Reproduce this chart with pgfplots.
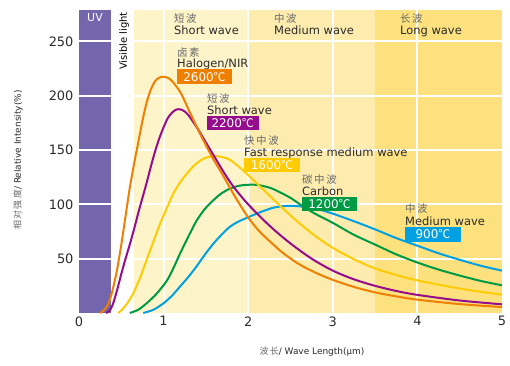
\documentclass[border=0pt]{standalone}
\usepackage{fontspec}
\setmainfont{DejaVu Sans}
\newfontfamily\cjk[LetterSpace=15]{Noto Sans CJK SC}
\usepackage{pgfplots}
\pgfplotsset{compat=1.18}
\definecolor{uvc}{HTML}{7466AD}
\definecolor{swc}{HTML}{FEF4C9}
\definecolor{mwc}{HTML}{FDECAE}
\definecolor{lwc}{HTML}{FCE17E}
\definecolor{corange}{HTML}{EE7F00}
\definecolor{cpurple}{HTML}{950C8C}
\definecolor{cyellow}{HTML}{FFCB05}
\definecolor{cgreen}{HTML}{009A44}
\definecolor{cblue}{HTML}{00A0E3}
\definecolor{cntxt}{HTML}{6A6A6A}
\definecolor{entxt}{HTML}{2B2B2B}
\newcommand{\cn}[1]{{\cjk\fontsize{10.5}{11}\selectfont\color{cntxt}#1}}
\newcommand{\en}[1]{{\fontsize{11.5}{12}\selectfont\color{entxt}#1}}
\newcommand{\bx}[1]{{\fontsize{12}{12}\selectfont\color{white}#1{\cjk ℃}}}
\begin{document}
\begin{tikzpicture}[x=1bp,y=1bp]
\useasboundingbox (0,0) rectangle (510,365);
\begin{axis}[
  at={(79bp,52bp)}, anchor=south west,
  scale only axis, width=423bp, height=303bp,
  xmin=0, xmax=5, ymin=0, ymax=279,
  axis line style={draw=none},
  xtick={0,1,2,3,4,5}, ytick={50,100,150,200,250},
  major tick length=0pt,
  ticklabel style={font=\fontsize{13}{13}\selectfont, text=entxt},
  /pgf/number format/assume math mode=true,
  yticklabel style={xshift=-2bp},
  clip=true,
]
\fill[uvc] (axis cs:0,0) rectangle (axis cs:0.375,279);
\fill[swc] (axis cs:0.65,0) rectangle (axis cs:2,279);
\fill[mwc] (axis cs:2,0) rectangle (axis cs:3.5,279);
\fill[lwc] (axis cs:3.5,0) rectangle (axis cs:5,279);
\draw[white, line width=2bp] (axis cs:1,0) -- (axis cs:1,279);
\draw[white, line width=2bp] (axis cs:2,0) -- (axis cs:2,279);
\draw[white, line width=2bp] (axis cs:3,0) -- (axis cs:3,279);
\draw[white, line width=2bp] (axis cs:4,0) -- (axis cs:4,279);
\draw[white, line width=2bp] (axis cs:0,50) -- (axis cs:5,50);
\draw[white, line width=2bp] (axis cs:0,100) -- (axis cs:5,100);
\draw[white, line width=2bp] (axis cs:0,150) -- (axis cs:5,150);
\draw[white, line width=2bp] (axis cs:0,200) -- (axis cs:5,200);
\draw[white, line width=2bp] (axis cs:0,250) -- (axis cs:5,250);

% 900 C
\addplot[cblue, line width=2bp, smooth, no markers] coordinates {
(0.76,0) (0.88,3) (1.0,9) (1.1,16) (1.19,24) (1.29,33) (1.39,43) (1.49,54) (1.59,64) (1.69,72.5) (1.785,79.5) (1.88,84) (1.98,87.5) (2.1,91.5) (2.2,94.5) (2.3,97) (2.4,98.3) (2.5,98.7) (2.6,98.3) (2.7,97.3) (2.85,95) (3.0,91.5) (3.25,84.5) (3.5,77) (3.75,69) (4.0,62) (4.25,55) (4.5,49) (4.75,43.5) (5.0,39)};
% 1200 C
\addplot[cgreen, line width=2bp, smooth, no markers] coordinates {
(0.60,0) (0.70,3) (0.80,9) (0.92,18) (1.04,30) (1.12,42) (1.19,54) (1.29,70) (1.39,85) (1.49,96) (1.59,104) (1.69,110.5) (1.785,114.5) (1.88,117) (1.98,118) (2.1,118) (2.2,116.5) (2.3,114) (2.5,106) (2.65,98) (2.8,91) (3.0,83) (3.25,72) (3.5,63) (3.75,54) (4.0,46.5) (4.25,40) (4.5,34.5) (4.75,29.5) (5.0,25.5)};
% 1600 C
\addplot[cyellow, line width=2bp, smooth, no markers] coordinates {
(0.465,0) (0.52,4) (0.58,10) (0.64,18) (0.72,32) (0.80,49) (0.88,66) (0.96,82.5) (1.04,97) (1.115,110) (1.21,122) (1.35,135) (1.47,142) (1.59,144.5) (1.7,143.5) (1.785,141) (1.9,134) (2.0,127) (2.2,112) (2.4,97) (2.6,83) (2.8,70.5) (3.0,60) (3.25,49.5) (3.5,41) (3.75,35) (4.0,30) (4.5,22.5) (5.0,16.8)};
% 2200 C
\addplot[cpurple, line width=2bp, smooth, no markers] coordinates {
(0.32,0) (0.36,2) (0.40,8) (0.45,21) (0.50,36) (0.55,50) (0.60,63) (0.65,77) (0.70,92) (0.75,106) (0.80,120) (0.85,135) (0.90,149) (0.95,161) (1.0,171) (1.05,179.5) (1.1,184.5) (1.15,187.3) (1.2,187.5) (1.25,185.5) (1.3,181.5) (1.4,170) (1.5,157) (1.6,144) (1.7,131) (1.8,119) (1.9,109) (2.0,100) (2.15,88) (2.3,77) (2.5,64) (2.75,50) (3.0,39) (3.25,31) (3.5,25) (3.75,20.3) (4.0,16.7) (4.5,11.5) (5.0,8)};
% 2600 C
\addplot[corange, line width=2bp, smooth, no markers] coordinates {
(0.25,0) (0.30,3) (0.35,9) (0.40,22) (0.45,40) (0.50,63) (0.55,89) (0.60,115) (0.65,137) (0.70,157) (0.75,177) (0.80,194) (0.85,206) (0.90,213.5) (0.95,216.8) (1.0,217.5) (1.05,216.5) (1.1,213.5) (1.2,203) (1.3,186.5) (1.4,170) (1.5,154.5) (1.6,140) (1.7,127) (1.8,113) (1.9,100) (2.0,88) (2.1,78) (2.2,70) (2.4,56) (2.6,45) (2.8,37) (3.0,30.5) (3.25,24) (3.5,19) (3.75,15.3) (4.0,12.3) (4.5,8.2) (5.0,5.5)};
\end{axis}

% band labels
\node[anchor=center, inner sep=0] at (95,347) {\fontsize{11}{11}\selectfont\color{white}UV};
\node[anchor=center, inner sep=0, rotate=90] at (124,324) {\fontsize{10}{10}\selectfont Visible light};
\node[anchor=base west, inner sep=0] at (174,342.3) {\cn{短波}};
\node[anchor=base west, inner sep=0] at (174,331) {\en{Short wave}};
\node[anchor=base west, inner sep=0] at (274,342.3) {\cn{中波}};
\node[anchor=base west, inner sep=0] at (274,331) {\en{Medium wave}};
\node[anchor=base west, inner sep=0] at (400,342.3) {\cn{长波}};
\node[anchor=base west, inner sep=0] at (400,331) {\en{Long wave}};

% curve labels
\node[anchor=base west, inner sep=0] at (177,308.3) {\cn{卤素}};
\node[anchor=base west, inner sep=0] at (177,298) {\en{Halogen/NIR}};
\fill[corange] (177,281) rectangle (232,295.7);
\node[inner sep=0] at (204.5,288.3) {\bx{2600}};

\node[anchor=base west, inner sep=0] at (207,262.3) {\cn{短波}};
\node[anchor=base west, inner sep=0] at (207,251) {\en{Short wave}};
\fill[cpurple] (207,235) rectangle (258.5,249.3);
\node[inner sep=0] at (232.7,242.1) {\bx{2200}};

\node[anchor=base west, inner sep=0] at (244,220.3) {\cn{快中波}};
\node[anchor=base west, inner sep=0] at (244,209) {\en{Fast response medium wave}};
\fill[cyellow] (244,193.3) rectangle (300,207);
\node[inner sep=0] at (272,200.1) {\bx{1600}};

\node[anchor=base west, inner sep=0] at (302,181.3) {\cn{碳中波}};
\node[anchor=base west, inner sep=0] at (302,170) {\en{Carbon}};
\fill[cgreen] (302,154) rectangle (357,168);
\node[inner sep=0] at (329.5,161) {\bx{1200}};

\node[anchor=base west, inner sep=0] at (405,152.3) {\cn{中波}};
\node[anchor=base west, inner sep=0] at (405,140) {\en{Medium wave}};
\fill[cblue] (405,123.3) rectangle (461,137.7);
\node[inner sep=0] at (433,130.5) {\bx{900}};

% axis titles
\node[rotate=90, inner sep=0] at (18,205) {\fontsize{9}{9}\selectfont{\cjk\color{cntxt}相对强度}\color{entxt}/ Relative Intensity(\%)};
\node[inner sep=0] at (312,13) {\fontsize{9}{9}\selectfont{\cjk\color{cntxt}波长}\color{entxt}/ Wave Length({\cjk μ}m)};
\end{tikzpicture}
\end{document}
